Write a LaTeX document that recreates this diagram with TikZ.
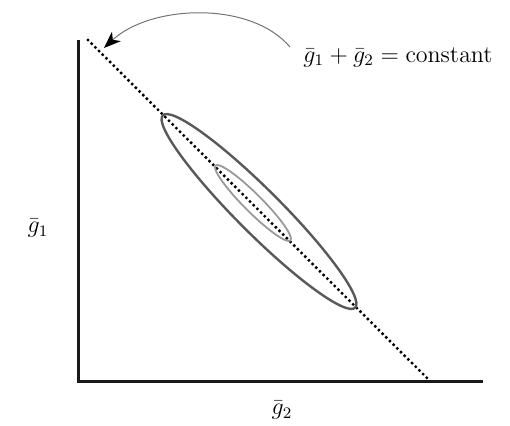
\documentclass[tikz,border=0pt]{standalone}
\usetikzlibrary{arrows.meta}
\begin{document}
\begin{tikzpicture}[x=0.5pt,y=0.5pt,
  axisline/.style={line width=1.5pt,draw=black!90},
  dotline/.style={line width=1.7pt,line cap=round,dash pattern=on 0pt off 2.6pt},
  outerell/.style={line width=1.2pt,draw=black!65},
  innerell/.style={line width=0.9pt,draw=black!40},
  lbl/.style={inner sep=0pt,font=\fontsize{11.8}{14}\selectfont},
  callout/.style={line width=0.5pt,draw=black!55,-{Stealth[length=8.5pt,width=6.5pt,inset=2.5pt,color=black]}}]
\useasboundingbox (0,0) rectangle (510,425);
% axes
\coordinate (top) at (78,385);
\coordinate (origin) at (78,44);
\coordinate (right) at (483,44);
\draw[axisline] (top) -- (origin) -- (right);
% constant line
\coordinate (ls) at (88,385);
\coordinate (le) at (427,47);
\draw[dotline] (ls) -- (le);
% ellipses
\draw[outerell,rotate around={-45:(259,213.5)}] (259,213.5) ellipse [x radius=136, y radius=22];
\draw[innerell,rotate around={-45:(253,222)}] (253,222) ellipse [x radius=53, y radius=9];
% labels
\node[lbl] (g1) at (38,197) {$\bar{g}_1$};
\node[lbl] (g2) at (282,15) {$\bar{g}_2$};
\node[lbl] (eq) at (398,368) {$\bar{g}_1+\bar{g}_2=\mathrm{constant}$};
% callout arrow
\coordinate (as) at (290,378);
\coordinate (ae) at (104,377);
\draw[callout] (as) .. controls (250,425) and (150,420) .. (ae);
\end{tikzpicture}
\end{document}
